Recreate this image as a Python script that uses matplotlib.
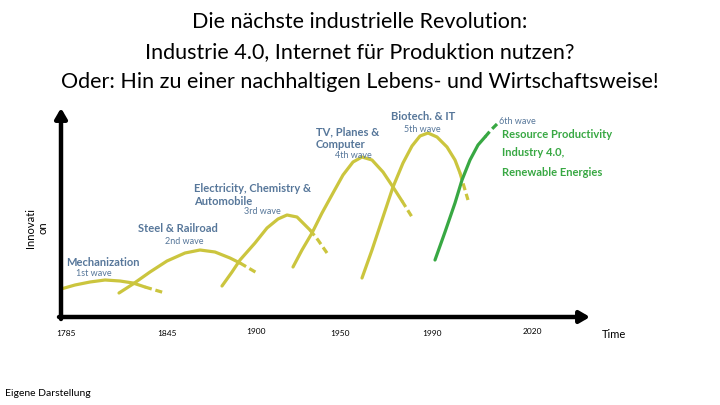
import matplotlib
matplotlib.use("Agg")
import matplotlib.pyplot as plt

# ---- data (slide coordinates) ----
title_lines = ["Die nächste industrielle Revolution:",
               "Industrie 4.0, Internet für Produktion nutzen?",
               "Oder: Hin zu einer nachhaltigen Lebens- und Wirtschaftsweise!"]

year_labels = ["1785", "1845", "1900", "1950", "1990", "2020"]
year_pos_x = [66, 167, 256, 340, 432, 532]
year_pos_y = [333, 333, 331, 333, 333, 331]

wave1_x = [61, 75, 90, 105, 120, 133, 145, 165]
wave1_y = [289, 285, 282, 280, 281, 283, 287, 293]
wave2_x = [119, 133, 150, 167, 185, 200, 215, 230, 240, 257]
wave2_y = [293, 284, 272, 261, 253, 250, 252, 258, 263, 273]
wave3_x = [222, 232, 240, 255, 267, 278, 287, 297, 310, 318, 327]
wave3_y = [286, 272, 260, 243, 228, 219, 215, 217, 230, 240, 253]
wave4_x = [293, 302, 312, 322, 333, 343, 353, 362, 372, 383, 393, 402, 412]
wave4_y = [267, 250, 233, 213, 193, 175, 162, 157, 160, 172, 187, 201, 217]
wave5_x = [362, 372, 382, 393, 403, 412, 420, 428, 437, 447, 455, 460, 468]
wave5_y = [278, 250, 220, 187, 163, 146, 136, 133, 137, 147, 160, 173, 200]
wave6_x = [435, 445, 455, 462, 470, 478, 485, 491, 497]
wave6_y = [260, 232, 203, 180, 160, 145, 137, 130, 124]
# index where the dashed tail starts
tail_start = [6, 8, 8, 11, 11, 6]

wave_labels = ["Mechanization", "Steel & Railroad", "Electricity, Chemistry &\nAutomobile",
               "TV, Planes &\nComputer", "Biotech. & IT"]
wave_names = ["1st wave", "2nd wave", "3rd wave", "4th wave", "5th wave", "6th wave"]
green_labels = ["Resource Productivity", "Industry 4.0,", "Renewable Energies"]

YELLOW = "#cbc53e"
GREEN = "#38a843"
SLATE = "#57779a"

fig = plt.figure(figsize=(7.2, 4.05), dpi=100)
ax = fig.add_axes([0, 0, 1, 1])
ax.set_xlim(0, 720)
ax.set_ylim(405, 0)
ax.axis("off")

FONT = ["Lato", "DejaVu Sans"]

# title
for i, line in enumerate(title_lines):
    ax.text(360, 22 + 30 * i, line, ha="center", va="center", fontsize=15.5,
            family=FONT, color="black")

# axes arrows
ax.annotate("", xy=(61, 108), xytext=(61, 319),
            arrowprops=dict(arrowstyle="-|>,head_length=0.6,head_width=0.35",
                            lw=3.2, color="black", shrinkA=0, shrinkB=0))
ax.annotate("", xy=(590, 317), xytext=(59, 317),
            arrowprops=dict(arrowstyle="-|>,head_length=0.6,head_width=0.35",
                            lw=3.2, color="black", shrinkA=0, shrinkB=0))

# waves
waves = [(wave1_x, wave1_y), (wave2_x, wave2_y), (wave3_x, wave3_y),
         (wave4_x, wave4_y), (wave5_x, wave5_y), (wave6_x, wave6_y)]
for k, (wx, wy) in enumerate(waves):
    c = GREEN if k == 5 else YELLOW
    t = tail_start[k]
    ax.plot(wx[:t + 1], wy[:t + 1], color=c, lw=2.3, solid_capstyle="round",
            solid_joinstyle="round")
    ax.plot(wx[t:], wy[t:], color=c, lw=2.3, ls=(0, (2.2, 1.2)))

# wave labels
lab_pos = [(66, 262), (138, 228), (194, 195), (316, 138), (391, 117)]
for (x, y), s in zip(lab_pos, wave_labels):
    ax.text(x, y, s, ha="left", va="center", fontsize=8, family=FONT,
            color=SLATE, fontweight="bold", linespacing=1.25)
name_pos = [(76, 273), (165, 241), (244, 212), (335, 155), (404, 130), (499, 122)]
for (x, y), s in zip(name_pos, wave_names):
    ax.text(x, y, s, ha="left", va="center", fontsize=6.5, family=FONT,
            color=SLATE)

for i, s in enumerate(green_labels):
    ax.text(502, 134 + 19 * i, s, ha="left", va="center", fontsize=8,
            family=FONT, color=GREEN, fontweight="bold")

# y axis label
ax.text(37, 228, "Innovati\non", rotation=90, ha="center", va="center",
        fontsize=8, family=FONT, color="black", linespacing=1.2)

# x tick labels
for s, x, y in zip(year_labels, year_pos_x, year_pos_y):
    ax.text(x, y, s, ha="center", va="center", fontsize=6, family=FONT,
            color="black")
ax.text(614, 334, "Time", ha="center", va="center", fontsize=8, family=FONT)

ax.text(5, 393, "Eigene Darstellung", ha="left", va="center", fontsize=7.5,
        family=FONT)

fig.savefig("out.png", dpi=100)
